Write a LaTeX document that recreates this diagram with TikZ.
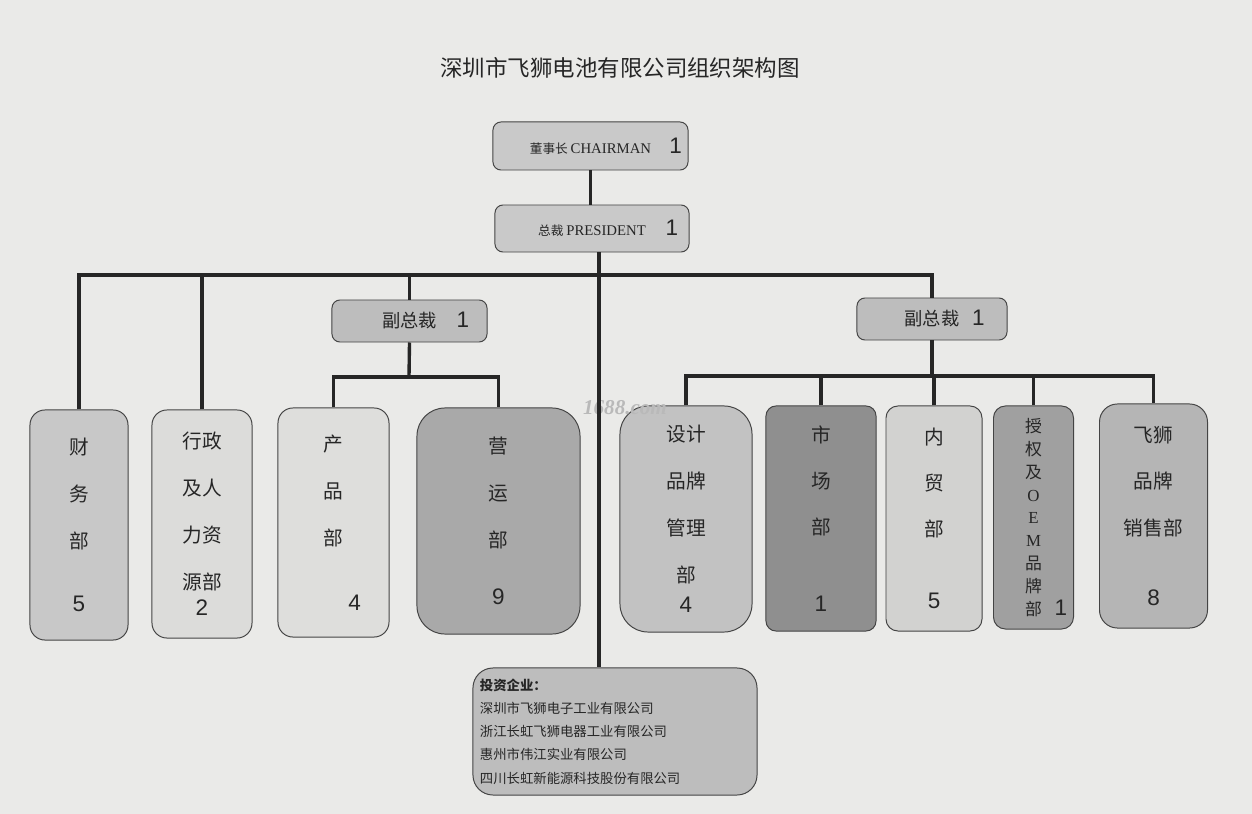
\documentclass[tikz,border=0pt]{standalone}
\usepackage{fontspec}
\setmainfont{Liberation Serif}
\newfontfamily\cjk{Noto Sans CJK SC}
\newfontfamily\hand{Liberation Sans}
\usepackage{tikz}

\definecolor{paper}{HTML}{EAEAE8}
\definecolor{ink}{HTML}{262626}
\definecolor{boxline}{HTML}{444444}
\definecolor{topfill}{HTML}{C9C9C9}
\definecolor{vpfill}{HTML}{BDBDBD}
\definecolor{finfill}{HTML}{C8C8C8}
\definecolor{admfill}{HTML}{DCDCDA}
\definecolor{prodfill}{HTML}{DEDEDC}
\definecolor{opsfill}{HTML}{A9A9A9}
\definecolor{desfill}{HTML}{C2C2C2}
\definecolor{mktfill}{HTML}{8F8F8F}
\definecolor{domfill}{HTML}{D2D2D0}
\definecolor{oemfill}{HTML}{A0A0A0}
\definecolor{brandfill}{HTML}{B5B5B5}
\definecolor{invfill}{HTML}{BDBDBD}

\newcommand\hw[1]{{\hand\fontsize{16pt}{16pt}\selectfont #1}}
\newcommand\en[1]{{\rmfamily\fontsize{10.5pt}{12pt}\selectfont #1}}

\begin{document}
\begin{tikzpicture}[x=0.025cm, y=-0.025cm, every node/.style={text=ink},
  line/.style={draw=ink, line width=2.4pt},
  topbox/.style={draw=boxline, line width=0.7pt, fill=#1, rounded corners=0.2cm,
    inner sep=0pt, font=\cjk\fontsize{9pt}{11pt}\selectfont},
  dept/.style={draw=boxline, line width=0.7pt, fill=#1, align=center, inner sep=0pt,
    font=\cjk\fontsize{14pt}{33.4pt}\selectfont}]
  % paper
  \fill[paper] (0,0) rectangle (1252,814);

  \node[font=\cjk\fontsize{16pt}{18pt}\selectfont] (title) at (620,68) {深圳市飞狮电池有限公司组织架构图};

  % top of the chart
  \node[topbox=topfill, minimum width=4.875cm, minimum height=1.2cm] (chair) at (590.5,146)
    {董事长 \en{CHAIRMAN}\rlap{\hspace{13pt}\hw{1}}};
  \node[topbox=topfill, minimum width=4.85cm, minimum height=1.175cm] (pres) at (592,228.5)
    {总裁 \en{PRESIDENT}\rlap{\hspace{14pt}\hw{1}}};
  \node[topbox=vpfill, minimum width=3.875cm, minimum height=1.05cm,
    font=\cjk\fontsize{13pt}{15pt}\selectfont] (vpl) at (409.5,321) {副总裁\rlap{\hspace{14pt}\hw{1}}};
  \node[topbox=vpfill, minimum width=3.75cm, minimum height=1.05cm,
    font=\cjk\fontsize{13pt}{15pt}\selectfont] (vpr) at (932,319) {副总裁\rlap{\hspace{9pt}\hw{1}}};

  % departments
  \node[dept=finfill, rounded corners=0.375cm, minimum width=2.45cm, minimum height=5.75cm] (fin) at (79,525)
    {财\\务\\部\\[11pt]\hw{5}};
  \node[dept=admfill, rounded corners=0.375cm, minimum width=2.5cm, minimum height=5.7cm] (adm) at (202,524)
    {行政\\及人\\力资\\源部\\[-15pt]\hw{2}};
  \node[dept=prodfill, rounded corners=0.375cm, minimum width=2.775cm, minimum height=5.725cm] (prod) at (333.5,522.5)
    {产\\品\\部\\[13pt]\hw{\hspace*{30pt}4}};
  \node[dept=opsfill, rounded corners=0.7cm, minimum width=4.075cm, minimum height=5.65cm] (ops) at (498.5,521)
    {营\\运\\部\\[7pt]\hw{9}};
  \node[dept=desfill, rounded corners=0.7cm, minimum width=3.3cm, minimum height=5.65cm] (des) at (686,519)
    {设计\\品牌\\管理\\部\\[-12pt]\hw{4}};
  \node[dept=mktfill, rounded corners=0.25cm, minimum width=2.75cm, minimum height=5.625cm,
    font=\cjk\fontsize{14pt}{32.7pt}\selectfont] (mkt) at (821,518.5)
    {市\\场\\部\\[22pt]\hw{1}};
  \node[dept=domfill, rounded corners=0.3cm, minimum width=2.4cm, minimum height=5.625cm,
    font=\cjk\fontsize{14pt}{32.7pt}\selectfont] (dom) at (934,518.5)
    {内\\贸\\部\\[19pt]\hw{5}};
  \node[dept=oemfill, rounded corners=0.3cm, minimum width=2cm, minimum height=5.575cm,
    font=\cjk\fontsize{12pt}{16.3pt}\selectfont] (oem) at (1033.5,517.5)
    {授\\权\\及\\\rmfamily O\\\rmfamily E\\\rmfamily M\\品\\牌\\部\rlap{\hspace{9pt}\hw{1}}};
  \node[dept=brandfill, rounded corners=0.45cm, minimum width=2.7cm, minimum height=5.6cm,
    font=\cjk\fontsize{14pt}{33pt}\selectfont] (brand) at (1153.5,516)
    {飞狮\\品牌\\销售部\\[17pt]\hw{8}};

  % holdings
  \node[draw=boxline, line width=0.7pt, fill=invfill, rounded corners=0.5cm, inner xsep=0.175cm,
    minimum height=3.175cm, text width=6.75cm, align=left,
    font=\cjk\fontsize{9.5pt}{16.5pt}\selectfont] (inv) at (615,731.5)
    {{\bfseries 投资企业：}\\深圳市飞狮电子工业有限公司\\浙江长虹飞狮电器工业有限公司\\惠州市伟江实业有限公司\\四川长虹新能源科技股份有限公司};

  \node[text=gray!55, font=\bfseries\itshape\fontsize{15pt}{15pt}\selectfont] (mark) at (625,408) {1688.com};

  % connectors
  \coordinate (bus) at (599,275);
  \coordinate (lbus) at (409,377);
  \coordinate (rbus) at (932,376);
  \draw[line] (chair.south) -- (chair.south |- pres.north);
  \draw[line] (pres.south -| bus) -- (inv.north -| bus);
  \draw[line] (fin.north) |- (bus) -| (vpr.north);
  \draw[line] (adm.north) -- (adm.north |- bus);
  \draw[line] (vpl.north) -- (vpl.north |- bus);
  \draw[line] (vpl.south) -- (lbus);
  \draw[line] (prod.north) |- (lbus) -| (ops.north);
  \draw[line] (vpr.south) -- (rbus);
  \draw[line] (des.north) |- (rbus) -| (brand.north);
  \foreach \n in {mkt,dom,oem}
    \draw[line] (\n.north) -- (\n.north |- rbus);
\end{tikzpicture}
\end{document}
